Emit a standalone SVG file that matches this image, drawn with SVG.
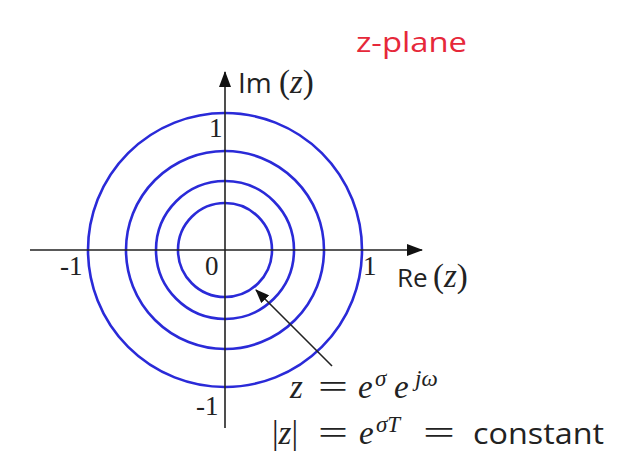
<svg xmlns="http://www.w3.org/2000/svg" width="631" height="461" viewBox="0 0 631 461">
<style>
.c{fill:none;stroke:#2a2ad8;stroke-width:2.6}
.ax{stroke:#222;stroke-width:1.6;fill:none}
.tk{font-family:"Liberation Serif",serif;font-size:27px;fill:#222}
.sn{font-family:"Open Sans","Liberation Sans",sans-serif;fill:#222}
.m{font-family:"Liberation Serif",serif;font-size:33px;fill:#222}
.mi{font-style:italic}
.sup{font-family:"Liberation Serif",serif;font-style:italic;font-size:23px;fill:#222}
</style>
<defs>
<marker id="ah" markerWidth="14" markerHeight="11" refX="13" refY="5.5" orient="auto" markerUnits="userSpaceOnUse">
<path d="M0,0 L14,5.5 L0,11 Z" fill="#111"/>
</marker>
<marker id="ah2" markerWidth="16" markerHeight="12" refX="15" refY="6" orient="auto" markerUnits="userSpaceOnUse">
<path d="M0,0 L16,6 L0,12 Z" fill="#111"/>
</marker>
</defs>
<rect width="631" height="461" fill="#fff"/>
<g id="circles">
<circle class="c" cx="225" cy="250" r="137"/>
<circle class="c" cx="225" cy="250" r="99"/>
<circle class="c" cx="225" cy="250" r="69"/>
<circle class="c" cx="225" cy="250" r="47"/>
</g>
<g id="axes">
<line class="ax" x1="30" y1="250" x2="422" y2="250" marker-end="url(#ah2)"/>
<line class="ax" x1="225" y1="428" x2="225" y2="72" marker-end="url(#ah2)"/>
</g>
<g id="ticks">
<text class="tk" x="209" y="137">1</text>
<text class="tk" x="60" y="275">-1</text>
<text class="tk" x="205" y="275">0</text>
<text class="tk" x="363" y="275">1</text>
<text class="tk" x="196" y="415">-1</text>
</g>
<g id="labels">
<text x="238" y="93"><tspan class="sn" font-size="28">Im</tspan><tspan class="m" x="279" font-size="34">(</tspan><tspan class="m mi" font-size="34">z</tspan><tspan class="m" font-size="34">)</tspan></text>
<text x="397" y="287"><tspan class="sn" font-size="26">Re</tspan><tspan class="m" x="433" font-size="34">(</tspan><tspan class="m mi" font-size="34">z</tspan><tspan class="m" font-size="34">)</tspan></text>
<text x="356" y="52" textLength="111" lengthAdjust="spacingAndGlyphs" style="font-family:'Open Sans','Liberation Sans',sans-serif;font-size:28px;fill:#e6283a">z-plane</text>
</g>
<g id="connectors">
<line x1="332" y1="366" x2="256" y2="290" stroke="#222" stroke-width="1.6" marker-end="url(#ah)"/>
</g>
<g id="equations">
<text class="m mi" x="290" y="398">z</text>
<text class="m" x="318" y="398" textLength="30" lengthAdjust="spacingAndGlyphs">=</text>
<text class="m mi" x="358" y="398">e</text>
<text class="sup" x="375" y="386">σ</text>
<text class="m mi" x="394" y="398">e</text>
<text class="sup" x="415" y="386">jω</text>
<text class="m" x="272" y="444">|<tspan class="mi">z</tspan>|</text>
<text class="m" x="318" y="444" textLength="30" lengthAdjust="spacingAndGlyphs">=</text>
<text class="m mi" x="359" y="444">e</text>
<text class="sup" x="376" y="432">σT</text>
<text class="m" x="423" y="444" textLength="32" lengthAdjust="spacingAndGlyphs">=</text>
<text class="sn" x="473" y="444" font-size="29" textLength="131" lengthAdjust="spacingAndGlyphs">constant</text>
</g>
</svg>
